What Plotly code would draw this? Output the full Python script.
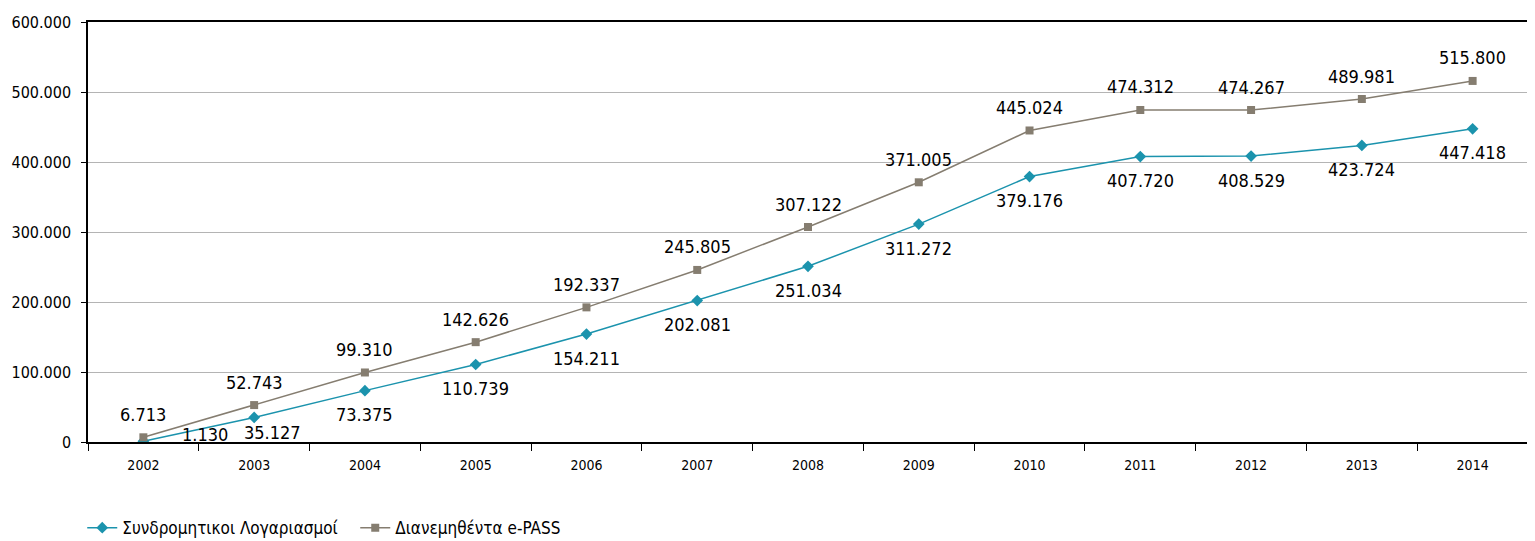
import plotly.graph_objects as go

years = ["2002", "2003", "2004", "2005", "2006", "2007", "2008", "2009", "2010", "2011", "2012", "2013", "2014"]
accounts = [1130, 35127, 73375, 110739, 154211, 202081, 251034, 311272, 379176, 407720, 408529, 423724, 447418]
epass = [6713, 52743, 99310, 142626, 192337, 245805, 307122, 371005, 445024, 474312, 474267, 489981, 515800]
name_accounts = "Συνδρομητικοι Λογαριασμοί"
name_epass = "Διανεμηθέντα e-PASS"

def fmt(v):
    return f"{v:,}".replace(",", ".")

FONT = "DejaVu Sans Condensed, sans-serif"
BLUE = "#1b93ad"
GRAY = "#857d70"

x = list(range(len(years)))

fig = go.Figure()
fig.add_trace(go.Scatter(
    x=x, y=accounts, name=name_accounts, mode="lines+markers",
    line=dict(color=BLUE, width=1.5),
    marker=dict(symbol="diamond", size=9, color=BLUE),
))
fig.add_trace(go.Scatter(
    x=x, y=epass, name=name_epass, mode="lines+markers",
    line=dict(color=GRAY, width=1.5),
    marker=dict(symbol="square", size=8, color=GRAY),
))

label_font = dict(family=FONT, size=18, color="black")
for i, v in enumerate(accounts):
    xs, ys = 0, -24
    if i == 0:
        xs, ys = 62, 7
    elif i == 1:
        xs, ys = 18, -15
    fig.add_annotation(x=i, y=v, text=fmt(v), showarrow=False, xshift=xs, yshift=ys, font=label_font)
for i, v in enumerate(epass):
    fig.add_annotation(x=i, y=v, text=fmt(v), showarrow=False, yshift=23, font=label_font)

# page has an 8px body margin: size the figure so the plot area lands where the reference has it
fig.update_layout(
    width=1527, height=533,
    margin=dict(l=80, r=7, t=14, b=99, autoexpand=False),
    paper_bgcolor="white", plot_bgcolor="white",
    font=dict(family=FONT, color="black"),
    showlegend=True,
    legend=dict(orientation="h", x=-0.004, y=-0.205, xanchor="left", yanchor="middle",
                font=dict(family=FONT, size=17, color="black"), itemwidth=30,
                tracegroupgap=0, entrywidthmode="pixels", entrywidth=228),
)
fig.update_xaxes(
    range=[-0.5, len(years) - 0.5], tickvals=x, ticktext=years,
    showgrid=False, zeroline=False, ticks="", automargin=False,
    tickfont=dict(family=FONT, size=14, color="black"), ticklabelstandoff=9,
    showline=True, linecolor="black", linewidth=1.5, mirror=True,
    minor=dict(tick0=0.5, dtick=1, ticks="outside", ticklen=7, tickcolor="black", showgrid=False),
)
fig.update_yaxes(
    range=[0, 600000], tickvals=[0, 100000, 200000, 300000, 400000, 500000, 600000],
    ticktext=["0", "100.000", "200.000", "300.000", "400.000", "500.000", "600.000"],
    showgrid=True, gridcolor="#b4b4b4", gridwidth=1, zeroline=False, automargin=False,
    ticks="outside", ticklen=5, tickcolor="black", ticklabelstandoff=7,
    tickfont=dict(family=FONT, size=16, color="black"),
    showline=True, linecolor="black", linewidth=1.5, mirror=True,
)

fig.write_html("out.html")
